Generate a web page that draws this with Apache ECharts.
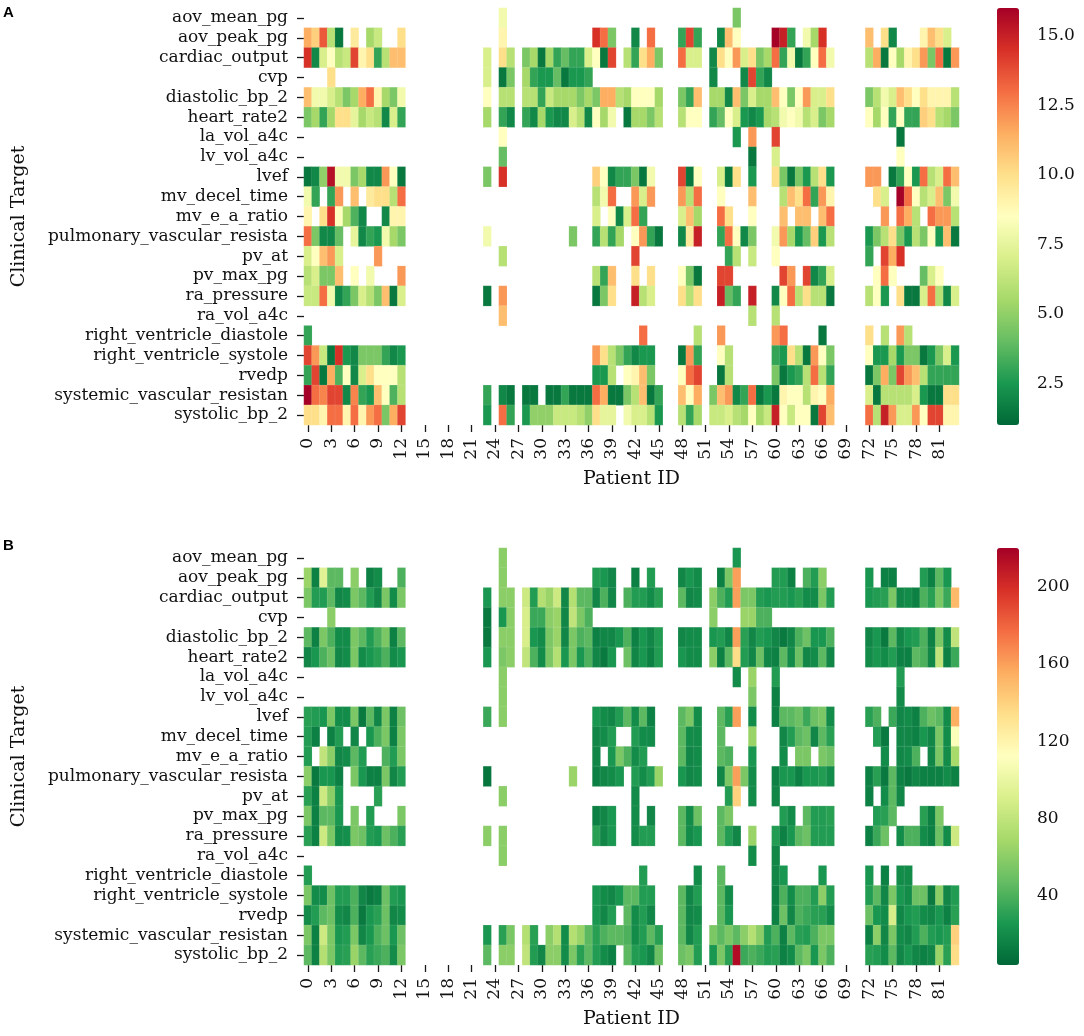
<!DOCTYPE html>
<html>
<head>
<meta charset="utf-8">
<script src="https://cdn.jsdelivr.net/npm/echarts@6/dist/echarts.min.js"></script>
<style>
html,body{margin:0;padding:0;background:#fff;}
#chart{width:1084px;height:1036px;}
</style>
</head>
<body>
<div id="chart"></div>
<script>
const _ = null;

// Row labels (clinical targets), top to bottom
const targets = ['aov_mean_pg','aov_peak_pg','cardiac_output','cvp','diastolic_bp_2','heart_rate2','la_vol_a4c','lv_vol_a4c','lvef','mv_decel_time','mv_e_a_ratio','pulmonary_vascular_resista','pv_at','pv_max_pg','ra_pressure','ra_vol_a4c','right_ventricle_diastole','right_ventricle_systole','rvedp','systemic_vascular_resistan','systolic_bp_2'];

// Patient IDs 0..83
const patientIds = Array.from({length:84}, (v,i) => String(i));

// Colour bar ticks and ranges
const ticksA = [2.5, 5.0, 7.5, 10.0, 12.5, 15.0];
const ticksB = [40, 80, 120, 160, 200];
const rangeA = [1.0, 16.0];
const rangeB = [4.3, 220];

// Values are given in column segments: 0-12, 13-22, 23-36, 37-47, 48-59, 60-71, 72-83
// Panel A
const A_aov_mean_pg = [[], [], [_,_,8], [], [_,_,_,_,_,_,_,4.5], [], []];
const A_aov_peak_pg = [[11.5,10.5,13.5,6,1.5,_,9.5,_,5.5,6.5,_,_,10], [], [_,_,9], [14.5,13,4.5,_,_,2,_,13], [3,14,3,_,_,2,11,8.5], [16,15,3,_,8,5.5,14.5], [11,_,10,2,_,_,_,9,11,10,7]];
const A_cardiac_output = [[14.5,2,7,8.5,6,6.5,14,9,10,3,6,11,11], [], [7,_,10,6,_,4.5,5.5,1.5,5.5,3,4,3,3,7], [8.5,1.5,14,_,6,3,10,11.5,4.5], [13,7,7,_,2,10,8.5,12,7,10,4.5,5.5], [13,3,8,1.5,3,8.5,13,8], [6,11.5,1.5,8.5,5.5,9,10,12,4.5,13,1.5,12]];
const A_cvp = [[_,_,_,10], [], [7,_,1.5,4.5,_,5.5,3,2.5,2.5,4,1.5,2.5,2.5,3], [], [_,_,_,_,2,_,_,_,2,14,3,2], [], []];
const A_diastolic_bp_2 = [[11,8,8,7,6,4.5,5.5,11.5,13,9,5.5,4.5,8], [], [8.5,_,6,6,_,6,6,3,6.5,5.5,5.5,5.5,4.5,5.5], [4.5,11.5,11.5,6,5.5,8.5,8.5,8.5,5.5], [4.5,3,11,_,5.5,5.5,2,11,4.5,7,5.5,5.5], [11,8.5,4.5,8.5,12,7,7,10], [4.5,6,8,7,11,10,8.5,10,9,9,9,6]];
const A_heart_rate2 = [[4.5,5.5,3,5.5,10,10,7.5,5.5,6.5,6,2,7,3], [], [5.5,_,3,2,_,3,2,5.5,2.5,2,2,7,6,2], [8.5,5.5,8,_,1.5,5.5,5.5,4.5,6], [6,8.5,8.5,_,3,4,8.5,7,2.5,2,2.5,5.5], [6,8,8.5,8,6,7,4.5,5.5], [8.5,5.5,8.5,3,8.5,3,3,10.5,10,6,5.5,4.5]];
const A_la_vol_a4c = [[], [], [_,_,8.5], [], [_,_,_,_,_,_,_,2.5,_,12], [14], [_,_,_,_,1.5]];
const A_lv_vol_a4c = [[], [], [_,_,4], [], [_,_,_,_,_,_,_,_,_,1.5], [7], [_,_,_,_,8.5]];
const A_lvef = [[1.5,2,5,15.5,8,8,4.5,5.5,2,2,12,8.5,1.5], [], [4.5,_,14.5], [10.5,8.5,2,3,3,4.5,1.5,8], [14,1.5,8.5,_,_,7,1.5,10,_,2.5], [10,4.5,1.5,4.5,2.5,6,10,2.5], [12,12,_,1.5,3,8.5,2.5,13,6,7,13,11]];
const A_mv_decel_time = [[8,3,_,3,12,_,11,_,9.5,10,10,6,13], [], [], [6,8,13,_,_,12,7,12], [12,6,13,_,_,8.5,_,_,_,11], [_,6,11,10,13,3,12,9], [_,10,7,_,16,13,8.5,6,7,11,4.5,8]];
const A_mv_e_a_ratio = [[9,_,10,14.5,8.5,5.5,3.5,2,_,_,2,9,9], [], [], [7,_,8.5,2,7,13,3], [7,11,5.5,_,_,13,10,_,_,8.5], [_,11,_,11,11,_,11,13], [_,_,12,_,13,11.5,6,_,13,12,12,6]];
const A_pulmonary = [[13,4.5,2,2,4,_,7.5,2,3,2.5,8,5.5,4.5], [], [8,_,_,_,_,_,_,_,_,_,_,4.5], [3,6,3,5.5,_,8.5,12,3,1.5], [2,9.5,15,_,_,3,13,8.5,2,4.5], [8,12,5.5,2.5,4,10.5,2.5,6], [2.5,4.5,6,10,4.5,2.5,6,4.5,8.5,2.5,11,1.5]];
const A_pv_at = [[7,8.5,11,12,7,_,_,_,_,12], [], [_,_,6], [_,_,_,_,_,14], [_,_,_,_,_,_,3,6,_,6.5], [8.5], [3,_,14,11.5,14.5]];
const A_pv_max_pg = [[6,7,4.5,4.5,11,_,8.5,_,8,_,_,_,12], [], [], [6,3,11,_,_,10,_,10], [8.5,4.5,1.5,_,_,14,14], [_,14,12,_,14,2,3,7], [_,8.5,13,8.5,_,_,_,4,7,8.5]];
const A_ra_pressure = [[6.5,6.5,13,8,2,3,4.5,7,6,4.5,11,1.5,7], [], [1.5,_,12], [1.5,4.5,10,_,_,15,6,7], [10,6,10,_,_,15,4,3,_,15], [2,8.5,13,6,10,6,6,1.5], [6,8.5,2.5,_,10,1.5,1.5,7,13,6,2,7]];
const A_ra_vol_a4c = [[], [], [_,_,11], [], [_,_,_,_,_,_,_,_,_,6], [6], []];
const A_rv_diastole = [[3], [], [], [_,_,_,_,_,_,13], [_,_,6,_,_,12], [12,13,_,_,_,_,1.5], [10,_,6,_,12,6]];
const A_rv_systole = [[14,12,6.5,1.5,14.5,2.5,2,4.5,4.5,4.5,3,2,2.5], [], [], [12,10,6,4.5,3,2,2.5,2.5], [1.5,12,3,_,_,8.5,6], [3,2.5,10,6,1.5,12,8.5,4.5], [8.5,2.5,2.5,5.5,2.5,4.5,4.5,1.5,2.5,4.5,7,2.5]];
const A_rvedp = [[3,14,1.5,11.5,3.5,8.5,2,7,10,8.5,8.5,8.5,6], [], [], [2.5,2.5,6,_,8.5,9,11,4.5], [8.5,13,14,_,_,1.5,6], [4.5,1.5,2.5,3,6,13,6,3], [1.5,4.5,11.5,4.5,14,12,11,6,3,3,3,3]];
const A_svr = [[16,13,12.5,14,14,2,12.5,3,2.5,11,8.5,3.5,6], [], [3,_,2,1.5,_,1.5,1.5,_,1.5,1.5,3,1.5,1.5,1.5], [13,11.5,1.5,1.5,4.5,6,11,1.5,3], [11,8.5,11.5,_,4.5,11,12,2,3,13,1.5,2.5], [1.5,9,8.5,8.5,6,9,8.5,11.5], [7,1.5,6,6,6,6,7,2.5,1.5,1.5,10,10]];
const A_systolic_bp_2 = [[10,10,9,13,13,9,13,9,12,13,4.5,11.5,14], [], [2.5,_,13,3,_,2.5,5,5,5,6.5,6.5,6.5,6,5], [10,7.5,7.5,_,8,7,7,6,2.5], [6,3,5.5,_,6.5,6.5,7,6,5.5,8.5,5.5,6.5], [15,8.5,6.5,8.5,8.5,1.5,14,11], [13,6,15,12,7,7,12,8.5,14,14,9,9]];

// Panel B
const B_aov_mean_pg = [[], [], [_,_,60], [], [_,_,_,_,_,_,_,25], [], []];
const B_aov_peak_pg = [[65,15,95,45,45,_,60,_,15,20,_,_,40], [], [_,_,60], [28,25,18,_,_,15,_,28], [18,25,20,_,_,15,55,160], [28,28,15,_,40,28,60], [25,_,15,15,_,_,_,28,15,45,25]];
const B_cardiac_output = [[55,28,28,45,18,20,55,45,28,18,55,20,55], [], [25,_,60,60,_,85,28,75,65,85,18,75,45,45], [18,40,18,_,40,28,28,20,30], [45,18,20,_,60,40,28,160,55,55,28,25], [28,28,25,30,20,20,55,28], [25,28,30,55,18,20,15,40,30,55,35,150]];
const B_cvp = [[_,_,_,60], [], [12,_,25,60,_,90,35,35,60,65,18,80,55,40], [], [_,_,_,_,60,_,_,_,65,65,40,40], [], []];
const B_diastolic_bp_2 = [[45,15,55,40,20,20,55,45,28,40,55,15,45], [], [12,_,60,60,_,90,25,20,55,65,18,55,40,45], [15,18,18,25,40,15,25,18,28], [18,20,20,_,25,28,18,160,30,18,28,25], [18,12,18,40,50,25,25,40], [18,25,12,45,18,25,28,40,15,55,20,80]];
const B_heart_rate2 = [[18,25,40,50,18,20,55,20,25,30,40,20,25], [], [25,_,55,60,_,80,40,20,55,75,25,55,25,40], [18,12,25,_,50,18,25,15,28], [25,20,20,_,60,15,45,135,28,18,50,18], [15,45,20,50,18,20,45,18], [20,25,20,28,15,15,45,40,18,80,15,35]];
const B_la_vol_a4c = [[], [], [_,_,60], [], [_,_,_,_,_,_,_,20,_,65], [28], [_,_,_,_,28]];
const B_lv_vol_a4c = [[], [], [_,_,60], [], [_,_,_,_,_,_,_,_,_,55], [15], [_,_,_,_,20]];
const B_lvef = [[30,28,25,55,20,20,55,12,45,18,55,15,50], [], [35,_,60], [25,20,18,28,45,20,45,15], [45,55,20,_,_,45,30,160,_,20], [15,45,45,50,35,50,55,20], [30,40,_,35,18,20,15,40,50,45,20,155]];
const B_mv_decel_time = [[28,15,_,15,28,_,18,_,25,40,55,15,55], [], [], [18,20,28,_,_,28,20,20], [45,20,20,_,_,45,_,_,_,65], [_,18,28,45,50,18,45,30], [_,28,12,_,18,18,15,25,18,55,20,110]];
const B_mv_e_a_ratio = [[28,_,80,60,18,20,45,28,_,_,40,28,55], [], [], [18,_,25,55,40,20,28], [45,18,20,_,_,45,40,_,_,25], [_,20,_,55,55,_,55,50], [_,_,20,_,18,20,40,_,18,55,20,70]];
const B_pulmonary = [[60,12,25,25,15,_,55,25,15,15,55,18,28], [], [10,_,_,_,_,_,_,_,_,_,_,65], [15,18,20,25,_,28,20,28,65], [25,18,20,_,_,18,55,160,55,20], [15,25,25,15,25,25,28,20], [15,30,12,45,15,12,18,15,15,15,20,15]];
const B_pv_at = [[30,15,85,60,25,_,_,_,_,30], [], [_,_,60], [_,_,_,_,_,20], [_,_,_,_,_,_,28,140,_,20], [18], [15,_,20,45,18]];
const B_pv_max_pg = [[55,15,45,45,25,_,55,_,28,_,_,_,55], [], [], [15,18,25,_,_,20,_,18], [45,20,50,_,_,45,55], [_,28,20,_,45,28,28,30], [_,28,30,45,_,_,_,30,15,55]];
const B_ra_pressure = [[30,15,85,55,20,22,55,50,28,25,50,40,30], [], [60,_,60], [30,18,25,_,_,20,28,28], [45,20,25,_,_,45,28,18,_,65], [28,15,25,45,50,28,28,28], [15,35,50,_,20,40,40,20,15,50,20,85]];
const B_ra_vol_a4c = [[], [], [_,_,60], [], [_,_,_,_,_,_,_,_,_,20], [18], []];
const B_rv_diastole = [[28], [], [], [_,_,_,_,_,_,28], [_,_,20,_,_,45], [18,25,_,_,_,_,25], [25,_,15,_,20,20]];
const B_rv_systole = [[55,20,20,50,28,28,40,18,12,15,50,28,25], [], [], [25,20,18,25,45,45,28,28], [45,18,28,_,_,45,20], [15,40,20,40,40,28,60,28], [28,45,18,55,25,20,50,50,12,60,18,28]];
const B_rvedp = [[20,28,45,50,20,18,40,12,25,30,50,18,20], [], [], [25,18,28,_,45,20,28,18], [45,18,20,_,_,45,25], [15,50,18,40,35,30,30,20], [50,25,20,90,18,25,28,20,18,25,15,30]];
const B_svr = [[55,15,85,55,25,28,55,18,25,40,50,25,50], [], [25,_,30,55,_,75,30,_,60,75,20,75,65,45], [30,40,45,45,40,20,28,45,30], [45,18,28,_,55,45,55,45,60,75,60,28], [40,15,45,30,28,40,55,55], [15,60,18,55,20,18,28,40,28,25,28,140]];
const B_systolic_bp_2 = [[45,15,75,55,28,30,65,45,30,35,40,20,55], [], [45,_,60,60,_,80,28,18,60,60,20,55,30,45], [28,20,15,_,45,28,25,18,50], [50,55,28,_,25,55,30,215,35,40,35,28], [30,15,20,45,55,25,55,40], [30,28,20,45,18,25,18,15,18,65,30,135]];

const rowsA = [A_aov_mean_pg,A_aov_peak_pg,A_cardiac_output,A_cvp,A_diastolic_bp_2,A_heart_rate2,A_la_vol_a4c,A_lv_vol_a4c,A_lvef,A_mv_decel_time,A_mv_e_a_ratio,A_pulmonary,A_pv_at,A_pv_max_pg,A_ra_pressure,A_ra_vol_a4c,A_rv_diastole,A_rv_systole,A_rvedp,A_svr,A_systolic_bp_2];
const rowsB = [B_aov_mean_pg,B_aov_peak_pg,B_cardiac_output,B_cvp,B_diastolic_bp_2,B_heart_rate2,B_la_vol_a4c,B_lv_vol_a4c,B_lvef,B_mv_decel_time,B_mv_e_a_ratio,B_pulmonary,B_pv_at,B_pv_max_pg,B_ra_pressure,B_ra_vol_a4c,B_rv_diastole,B_rv_systole,B_rvedp,B_svr,B_systolic_bp_2];

const SEG_LENS = [13,10,14,11,12,12,12];
function expand(segs){
  const out = [];
  SEG_LENS.forEach((n,i) => {
    const s = segs[i] || [];
    for (let j = 0; j < n; j++) out.push(s[j] === undefined ? null : s[j]);
  });
  return out;
}
function toCells(rows){
  const cells = [];
  rows.forEach((segs, r) => {
    expand(segs).forEach((v, c) => { if (v !== null) cells.push([c, r, v]); });
  });
  return cells;
}

const RdYlGn_r = ['#006837','#1a9850','#66bd63','#a6d96a','#d9ef8b','#ffffbf','#fee08b','#fdae61','#f46d43','#d73027','#a50026'];
const SERIF = 'DejaVu Serif';
const TICK_FS = 17;
const LABEL_FS = 19;

const G = {left:304, width:655, height:417, topA:8, topB:548, cbLeft:997, cbWidth:22};

function heatX(idx){
  return {
    type:'category', gridIndex:idx, data:patientIds,
    axisLine:{show:false},
    axisTick:{show:true, interval:2, alignWithLabel:true, length:7, lineStyle:{color:'#1a1a1a', width:1.3}},
    axisLabel:{interval:2, rotate:90, fontFamily:SERIF, fontSize:TICK_FS, color:'#111', margin:13, hideOverlap:false},
    splitLine:{show:false},
    name:'Patient ID', nameLocation:'middle', nameGap:45,
    nameTextStyle:{fontFamily:SERIF, fontSize:LABEL_FS, color:'#111'}
  };
}
function heatY(idx){
  return {
    type:'category', gridIndex:idx, data:targets, inverse:true,
    axisLine:{show:false},
    axisTick:{show:true, interval:0, alignWithLabel:true, length:7, lineStyle:{color:'#1a1a1a', width:1.3}},
    axisLabel:{interval:0, fontFamily:SERIF, fontSize:TICK_FS, color:'#111', margin:16, hideOverlap:false},
    splitLine:{show:false},
    name:'Clinical Target', nameLocation:'middle', nameGap:275,
    nameTextStyle:{fontFamily:SERIF, fontSize:LABEL_FS, color:'#111'}
  };
}
function cbY(idx, range, ticks, dec){
  return {
    type:'value', gridIndex:idx, min:range[0], max:range[1], position:'right',
    axisLine:{show:false}, splitLine:{show:false},
    axisTick:{show:true, length:8, customValues:ticks, lineStyle:{color:'#1a1a1a', width:1.3}},
    axisLabel:{show:true, customValues:ticks, fontFamily:SERIF, fontSize:TICK_FS, color:'#111', margin:18,
      formatter: v => dec ? Number(v).toFixed(1) : String(Math.round(v))}
  };
}

const titleStyle = {fontFamily:'Liberation Sans', fontWeight:'bold', fontSize:15, color:'#000'};

const option = {
  animation:false,
  backgroundColor:'#fff',
  title:[
    {text:'A', left:3, top:5, padding:0, textStyle:titleStyle},
    {text:'B', left:3, top:538, padding:0, textStyle:titleStyle}
  ],
  grid:[
    {left:G.left, top:G.topA, width:G.width, height:G.height},
    {left:G.left, top:G.topB, width:G.width, height:G.height},
    {left:G.cbLeft, top:G.topA, width:G.cbWidth, height:G.height},
    {left:G.cbLeft, top:G.topB, width:G.cbWidth, height:G.height}
  ],
  xAxis:[heatX(0), heatX(1), {type:'value', gridIndex:2, show:false}, {type:'value', gridIndex:3, show:false}],
  yAxis:[heatY(0), heatY(1), cbY(2, rangeA, ticksA, true), cbY(3, rangeB, ticksB, false)],
  visualMap:[
    {type:'continuous', seriesIndex:0, min:rangeA[0], max:rangeA[1], calculable:false, orient:'vertical',
     left:G.cbLeft, top:G.topA, itemWidth:G.cbWidth, itemHeight:G.height, padding:0, text:null,
     inRange:{color:RdYlGn_r}, hoverLink:false},
    {type:'continuous', seriesIndex:1, min:rangeB[0], max:rangeB[1], calculable:false, orient:'vertical',
     left:G.cbLeft, top:G.topB, itemWidth:G.cbWidth, itemHeight:G.height, padding:0, text:null,
     inRange:{color:RdYlGn_r}, hoverLink:false}
  ],
  series:[
    {type:'heatmap', xAxisIndex:0, yAxisIndex:0, data:toCells(rowsA),
     itemStyle:{borderColor:'rgba(255,255,255,0.25)', borderWidth:0.4}},
    {type:'heatmap', xAxisIndex:1, yAxisIndex:1, data:toCells(rowsB),
     itemStyle:{borderColor:'rgba(255,255,255,0.25)', borderWidth:0.4}},
    {type:'scatter', xAxisIndex:2, yAxisIndex:2, data:[], silent:true},
    {type:'scatter', xAxisIndex:3, yAxisIndex:3, data:[], silent:true}
  ]
};

const chart = echarts.init(document.getElementById('chart'), null, {renderer:'canvas'});
chart.setOption(option);
</script>
</body>
</html>
